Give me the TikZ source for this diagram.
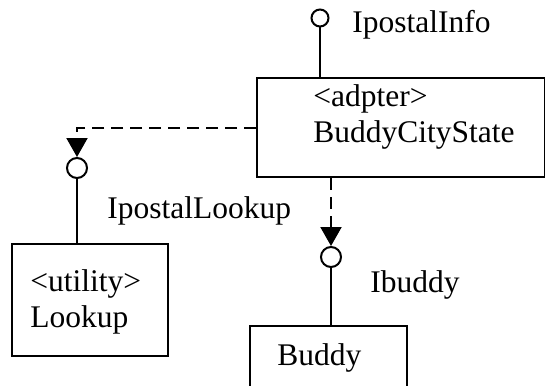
\documentclass[tikz,border=0pt]{standalone}
\usepackage{fontspec}
\setmainfont{Liberation Serif}
\usepackage{tikz}
\usetikzlibrary{arrows.meta}

\newcommand{\umlfont}{\fontsize{15.75pt}{18pt}\selectfont}

\begin{document}
\begin{tikzpicture}[
    x=0.5pt, y=-0.5pt,
    box/.style={rectangle, draw=black, line width=1pt, inner sep=0pt, anchor=north west},
    iface/.style={circle, draw=black, line width=1pt, minimum size=10pt, inner sep=0pt},
    lbl/.style={font=\umlfont, anchor=base west, inner sep=0pt, align=left},
    stem/.style={line width=1pt},
    uses/.style={line width=1pt, dash pattern=on 6pt off 3.5pt, -{Triangle[length=9.5pt,width=10.5pt]}}
]
\useasboundingbox (0,0) rectangle (545,385);
\clip (0,0) rectangle (545,385);

% Classes
\node[box, minimum width=144pt, minimum height=49.5pt] (bcs) at (256,77) {};
\node[box, minimum width=78pt, minimum height=56pt] (lookup) at (11,243) {};
\node[box, minimum width=78.5pt, minimum height=50pt] (buddy) at (249,325) {};

% Class names (base = last line)
\node[lbl] (bcsname) at (313,142) {<adpter>\\BuddyCityState};
\node[lbl] (lookupname) at (30,327) {<utility>\\Lookup};
\node[lbl] (buddyname) at (277,365) {Buddy};

% Interfaces (lollipops)
\node[iface, minimum size=8.5pt] (ipostalinfo) at (320,18) {};
\node[iface] (ipostallookup) at (77,168) {};
\node[iface] (ibuddy) at (331,257) {};

\node[lbl] (infolbl) at (352,33) {IpostalInfo};
\node[lbl] (lookuplbl) at (107,218) {IpostalLookup};
\node[lbl] (buddylbl) at (370,292) {Ibuddy};

\draw[stem] (ipostalinfo) -- (ipostalinfo |- bcs.north);
\draw[stem] (ipostallookup) -- (ipostallookup |- lookup.north);
\draw[stem] (ibuddy) -- (ibuddy |- buddy.north);

% Dependencies
\draw[uses] (bcs.west) -| (ipostallookup.north);
\draw[uses] (ibuddy |- bcs.south) -- (ibuddy.north);

\end{tikzpicture}
\end{document}
